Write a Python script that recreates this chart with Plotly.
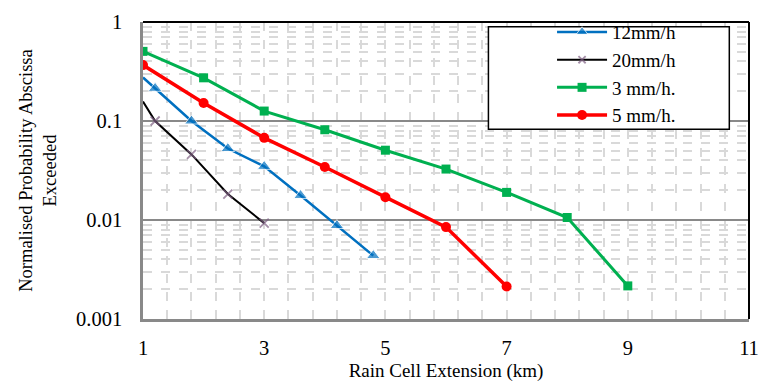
import plotly.graph_objects as go

# Data
x_12 = [1.0, 1.2, 1.8, 2.4, 3.0, 3.6, 4.2, 4.8]
y_12 = [0.275, 0.214, 0.100, 0.0527, 0.0348, 0.0177, 0.0088, 0.00437]
x_20 = [1.0, 1.2, 1.8, 2.4, 3.0]
y_20 = [0.157, 0.100, 0.046, 0.0183, 0.0093]
x_3 = [1, 2, 3, 4, 5, 6, 7, 8, 9]
y_3 = [0.505, 0.273, 0.126, 0.0816, 0.0507, 0.0327, 0.019, 0.0106, 0.00216]
x_5 = [1, 2, 3, 4, 5, 6, 7]
y_5 = [0.367, 0.152, 0.0676, 0.0343, 0.017, 0.00848, 0.00213]

x_ticks = [1, 3, 5, 7, 9, 11]
y_ticks = [0.001, 0.01, 0.1, 1]
y_tick_text = ["0.001", "0.01", "0.1", "1"]

FONT = "Liberation Serif"

fig = go.Figure()

fig.add_trace(go.Scatter(
    x=x_12, y=y_12, name="12mm/h", mode="lines+markers",
    line=dict(color="#0070C0", width=2.5),
    marker=dict(symbol="triangle-up", size=[0] + [12] * (len(x_12) - 1), color="#0070C0"),
))
fig.add_trace(go.Scatter(
    x=x_20, y=y_20, name="20mm/h", mode="lines+markers",
    line=dict(color="#000000", width=2),
    marker=dict(symbol="x-thin", size=[0] + [9] * (len(x_20) - 1),
                color="#7F6084", line=dict(color="#7F6084", width=1.8)),
))
fig.add_trace(go.Scatter(
    x=x_3, y=y_3, name="3 mm/h.", mode="lines+markers",
    line=dict(color="#00B050", width=3),
    marker=dict(symbol="square", size=9, color="#00B050"),
))
fig.add_trace(go.Scatter(
    x=x_5, y=y_5, name="5 mm/h.", mode="lines+markers",
    line=dict(color="#FF0000", width=3.5),
    marker=dict(symbol="circle", size=10, color="#FF0000"),
))

fig.update_layout(
    width=770, height=390,
    margin=dict(l=143, r=11, t=15, b=70),
    paper_bgcolor="white", plot_bgcolor="white",
    font=dict(family=FONT, size=20, color="#000000"),
    showlegend=True,
    legend=dict(
        x=0.675, y=1.03, xanchor="left", yanchor="top",
        bgcolor="rgba(0,0,0,0)", borderwidth=0,
        font=dict(family=FONT, size=19),
        itemwidth=50, tracegroupgap=0,
    ),
    shapes=[
        dict(type="line", xref="paper", yref="paper", x0=0, x1=1, y0=1, y1=1,
             line=dict(color="#000000", width=2)),
        dict(type="line", xref="paper", yref="paper", x0=1, x1=1, y0=0, y1=1,
             line=dict(color="#000000", width=2)),
        dict(type="rect", xref="paper", yref="paper", x0=0.570, x1=0.9675,
             y0=0.639, y1=0.9836, fillcolor="white",
             line=dict(color="#000000", width=1.5), layer="above"),
    ],
)

fig.update_xaxes(
    range=[1, 11], tickvals=x_ticks, ticks="", showgrid=False,
    showline=True, linecolor="#898989", linewidth=2.5,
    zeroline=False,
    tickfont=dict(family=FONT, size=20.5),
    ticklabelstandoff=9,
    minor=dict(dtick=0.4, tick0=1, showgrid=True, gridcolor="#d9d9d9",
               griddash="dash", gridwidth=1.5),
    title=dict(text="Rain Cell Extension (km)", font=dict(family=FONT, size=19), standoff=6),
)

fig.update_yaxes(
    type="log", range=[-3, 0], tickvals=y_ticks, ticktext=y_tick_text, ticks="",
    showgrid=True, gridcolor="#898989", gridwidth=2,
    showline=True, linecolor="#898989", linewidth=2.5,
    zeroline=False,
    tickfont=dict(family=FONT, size=20.5),
    ticklabelstandoff=14,
    minor=dict(dtick="D1", showgrid=True, gridcolor="#d9d9d9",
               griddash="dash", gridwidth=1.5),
    title=dict(text="Normalised Probability Abscissa<br>Exceeded",
               font=dict(family=FONT, size=18.5), standoff=15),
)

fig.write_html("out.html")
